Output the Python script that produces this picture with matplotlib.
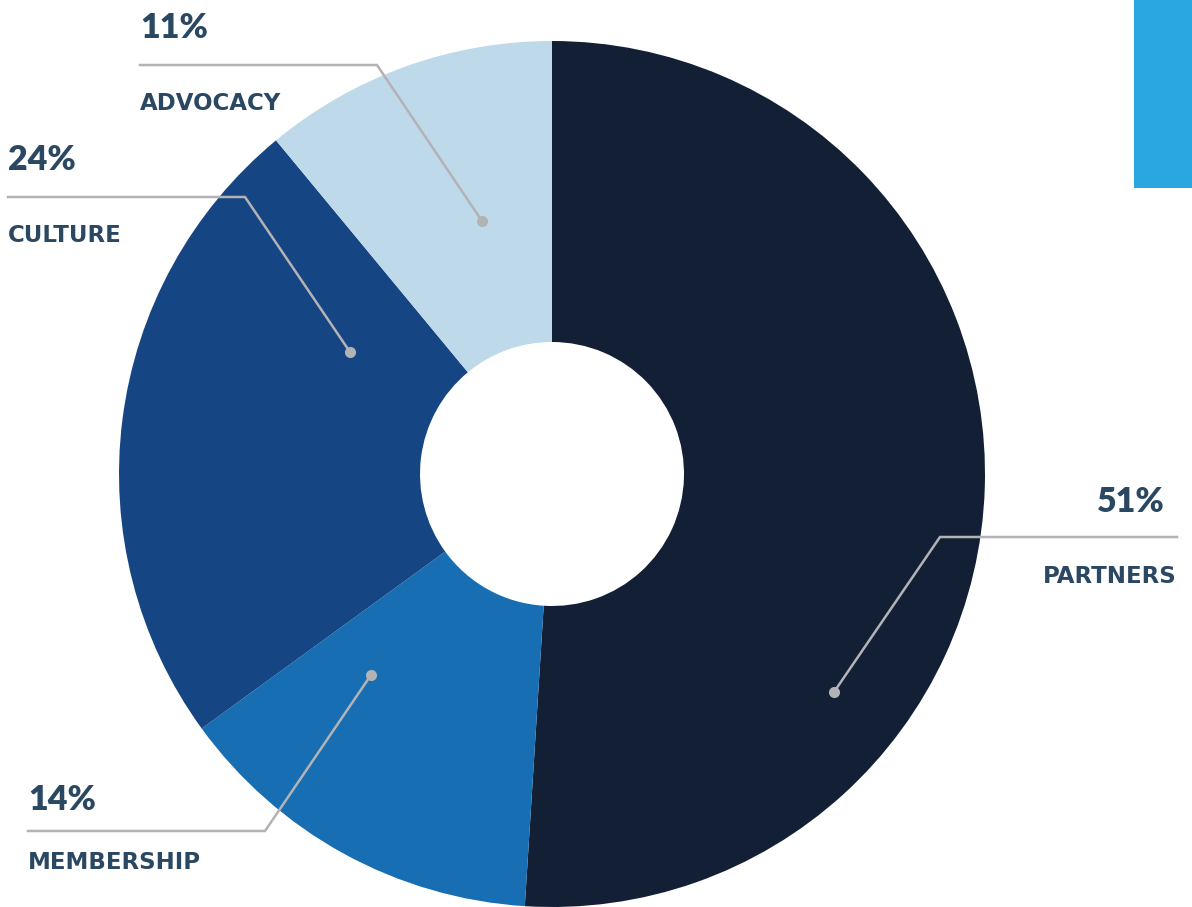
import matplotlib
matplotlib.use("Agg")
import matplotlib.pyplot as plt
from matplotlib.patches import Rectangle

# parts du budget
categories = ["PARTNERS", "MEMBERSHIP", "CULTURE", "ADVOCACY"]
valeurs = [51, 14, 24, 11]
couleurs = ["#121f35", "#186eb3", "#164583", "#bed9ea"]

W, H = 1192, 907
TXT = "#2b4863"
GRIS = "#b3b3b6"

fig = plt.figure(figsize=(W / 100, H / 100), dpi=100)
ax = fig.add_axes([0, 0, 1, 1])

# anneau
cx, cy, R = 552, H - 474, 433
ax.pie(valeurs, colors=couleurs, startangle=90, counterclock=False,
       center=(cx, cy), radius=R, frame=True,
       wedgeprops=dict(width=R - 132, linewidth=0))
ax.set_xlim(0, W)
ax.set_ylim(0, H)
ax.set_aspect("equal")
ax.axis("off")

# bande bleue en haut a droite
ax.add_patch(Rectangle((1134, H - 188), W - 1134, 188, color="#29a8e0", lw=0))

# etiquettes : (x texte, y pourcent, y ligne, y nom, coude x, point, alignement)
etiquettes = {
    "ADVOCACY":   (140, 38, 65, 110, 377, (482, 221), "left"),
    "CULTURE":    (8, 170, 197, 242, 245, (350, 352), "left"),
    "MEMBERSHIP": (28, 810, 831, 869, 265, (371, 675), "left"),
    "PARTNERS":   (1177, 512, 537, 583, 940, (834, 692), "right"),
}

pct_font = dict(family=["Lato", "DejaVu Sans"], fontweight="heavy", color=TXT)
nom_font = dict(family=["DejaVu Sans"], fontweight="bold", color=TXT)

for nom, v in zip(categories, valeurs):
    x, yp, yl, yn, xc, pt, al = etiquettes[nom]
    xp = 1165 if al == "right" else x
    ax.text(xp, H - yp, f"{v}%", ha=al, va="baseline", fontsize=24.5, **pct_font)
    ax.text(x, H - yn, nom, ha=al, va="baseline", fontsize=16.5, **nom_font)
    ax.plot([x, xc, pt[0]], [H - yl, H - yl, H - pt[1]],
            color=GRIS, lw=1.8, solid_joinstyle="miter")
    ax.plot(pt[0], H - pt[1], "o", color=GRIS, ms=8, mew=0)

fig.savefig("out.png", dpi=100, facecolor="white")
